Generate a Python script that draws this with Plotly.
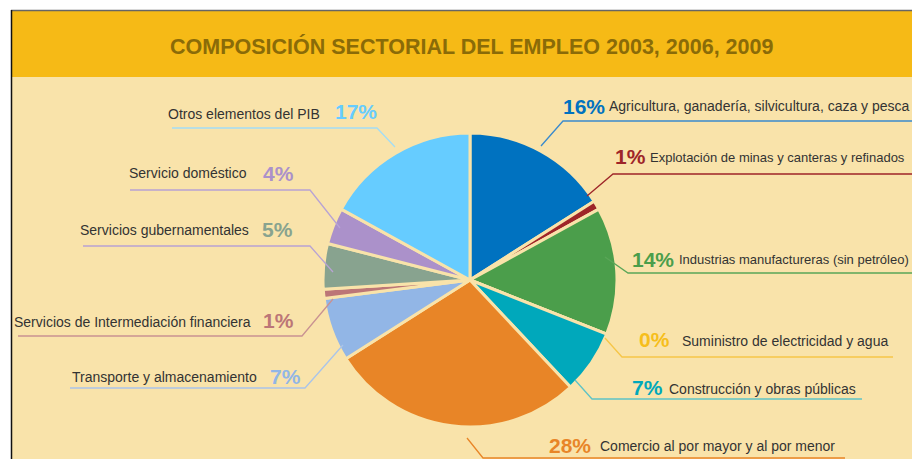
import plotly.graph_objects as go

# page body has an 8px margin; the figure is laid out in page pixels minus that offset
OFF = 8
W, H = 912, 451

# ---- data ----
sectors = [
    "Agricultura, ganadería, silvicultura, caza y pesca",
    "Explotación de minas y canteras y refinados",
    "Industrias manufactureras (sin petróleo)",
    "Suministro de electricidad y agua",
    "Construcción y obras públicas",
    "Comercio al por mayor y al por menor",
    "Transporte y almacenamiento",
    "Servicios de Intermediación financiera",
    "Servicios gubernamentales",
    "Servicio doméstico",
    "Otros elementos del PIB",
]
shares = [16, 1, 14, 0, 7, 28, 7, 1, 5, 4, 17]
slice_colors = ["#0072C0", "#9E2528", "#4B9E4B", "#F6BE1B", "#00A8BB", "#E88527",
                "#92B6E6", "#BC7677", "#88A38F", "#AB91CA", "#66CCFF"]
line_colors = ["#3A8ACD", "#9E2528", "#5AA658", "#F6C648", "#5EC3C6", "#E88527",
               "#A9C4EA", "#C99292", "#B8A3D4", "#B8A3D4", "#A3DDF6"]
title = "COMPOSICIÓN SECTORIAL DEL EMPLEO 2003, 2006, 2009"

# ---- layout helpers (page pixels -> paper) ----
def px(x):
    return (x - OFF) / W

def py(y):
    return 1 - (y - OFF) / H

BG = "#F9E3AA"
cx, cy, r = 470, 280, 147

fig = go.Figure()
fig.add_trace(go.Pie(
    values=shares, labels=sectors, sort=False, direction="clockwise", rotation=0,
    textinfo="none", hoverinfo="label+percent", showlegend=False,
    marker=dict(colors=slice_colors, line=dict(color=BG, width=3)),
    domain=dict(x=[px(cx - r), px(cx + r)], y=[py(cy + r), py(cy - r)]),
))

shapes = [
    dict(type="rect", xref="paper", yref="paper", x0=px(12), x1=1, y0=0, y1=py(77),
         fillcolor=BG, line=dict(width=0), layer="below"),
    dict(type="rect", xref="paper", yref="paper", x0=px(12), x1=1, y0=py(77), y1=py(11),
         fillcolor="#F6BA16", line=dict(width=0), layer="below"),
    dict(type="line", xref="paper", yref="paper", x0=px(11), x1=1, y0=py(10.5), y1=py(10.5),
         line=dict(color="#666666", width=1.5)),
    dict(type="line", xref="paper", yref="paper", x0=px(11.5), x1=px(11.5), y0=0, y1=py(10),
         line=dict(color="#111111", width=1.5)),
]

# leader lines (page-pixel polyline per sector, same order as data)
leaders = [
    [(541, 146), (563, 121), (912, 121)],
    [(587, 196), (613, 174), (920, 174)],
    [(605, 257), (628, 273), (920, 273)],
    [(605, 338), (622, 357), (893, 357)],
    [(575, 380), (592, 399), (862, 399)],
    [(467, 438), (483, 458), (845, 458)],
    [(343, 345), (305, 388), (70, 388)],
    [(333, 299), (302, 336), (18, 336)],
    [(333, 272), (310, 246), (83, 246)],
    [(340, 228), (310, 190), (130, 190)],
    [(395, 147), (377, 128), (172, 128)],
]
for pts, col in zip(leaders, line_colors):
    path = "M " + " L ".join(f"{px(x):.5f},{py(y):.5f}" for x, y in pts)
    shapes.append(dict(type="path", xref="paper", yref="paper", path=path,
                       line=dict(color=col, width=1.3)))

LABEL_FONT = "Liberation Sans, Arial"
PCT_FONT = "Liberation Sans, Arial"
TXT = "#333333"

# label placement: (side, pct_x, pct_y, label_x, label_y, label_size) in page pixels
place = [
    ("R", 561, 107, 607, 106, 14),
    ("R", 613, 157, 648, 158, 13),
    ("R", 630, 259, 677, 259, 13),
    ("R", 637, 339, 680, 341, 14),
    ("R", 630, 387, 667, 389, 14),
    ("R", 547, 445, 598, 446, 14),
    ("L", 268, 376, 259, 377, 14),
    ("L", 261, 320, 253, 322, 14),
    ("L", 260, 230, 251, 230, 14),
    ("L", 261, 173, 249, 173, 14),
    ("L", 333, 111, 322, 114, 14),
]

annotations = [dict(text=f"<b>{title}</b>", x=px(471), y=py(47), xref="paper", yref="paper",
                    showarrow=False, xanchor="center", yanchor="middle",
                    font=dict(family=LABEL_FONT, size=21.5, color="#8A6B08"))]
for name, v, col, (side, pxx, pyy, lx, ly, fs) in zip(sectors, shares, slice_colors, place):
    annotations.append(dict(text=f"<b>{v}%</b>", x=px(pxx), y=py(pyy), xref="paper", yref="paper",
                            showarrow=False, xanchor="left", yanchor="middle",
                            font=dict(family=PCT_FONT, size=21, color=col)))
    annotations.append(dict(text=name, x=px(lx), y=py(ly), xref="paper", yref="paper",
                            showarrow=False, xanchor="left" if side == "R" else "right",
                            yanchor="middle",
                            font=dict(family=LABEL_FONT, size=fs, color=TXT)))

fig.update_layout(
    width=W, height=H, margin=dict(l=0, r=0, t=0, b=0),
    paper_bgcolor="white", plot_bgcolor="white",
    shapes=shapes, annotations=annotations,
)
fig.write_html("out.html")
